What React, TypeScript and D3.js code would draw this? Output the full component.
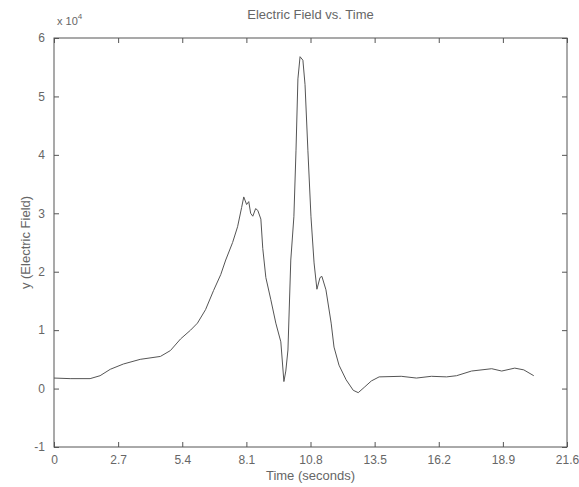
import React, { useEffect, useRef } from 'react'
import * as d3 from 'd3'

// time in seconds, field in units of 1e4
const times = [0, 0.68, 1.52, 1.94, 2.37, 2.92, 3.63, 4.48, 4.9, 5.33, 5.75, 6.04, 6.38, 6.72, 7.02, 7.23, 7.52, 7.73, 7.9, 7.99, 8.11, 8.2, 8.28, 8.37, 8.49, 8.58, 8.71, 8.79, 8.92, 9.13, 9.34, 9.55, 9.68, 9.76, 9.85, 9.97, 10.1, 10.19, 10.27, 10.36, 10.48, 10.57, 10.69, 10.82, 10.95, 11.07, 11.2, 11.28, 11.45, 11.67, 11.79, 12.0, 12.3, 12.6, 12.81, 13.06, 13.36, 13.69, 14.62, 15.26, 15.89, 16.53, 16.95, 17.58, 18.43, 18.85, 19.4, 19.78, 20.2]
const field = [0.18, 0.17, 0.17, 0.22, 0.33, 0.42, 0.5, 0.55, 0.65, 0.85, 1.0, 1.12, 1.35, 1.68, 1.95, 2.2, 2.5, 2.77, 3.1, 3.28, 3.15, 3.2, 3.0, 2.95, 3.08, 3.05, 2.9, 2.4, 1.9, 1.52, 1.12, 0.8, 0.12, 0.3, 0.66, 2.2, 2.94, 4.08, 5.3, 5.68, 5.62, 5.2, 4.08, 2.94, 2.15, 1.7, 1.9, 1.92, 1.69, 1.12, 0.71, 0.4, 0.15, -0.03, -0.07, 0.02, 0.13, 0.2, 0.21, 0.18, 0.21, 0.2, 0.22, 0.3, 0.34, 0.3, 0.35, 0.32, 0.22]

const xTicks = [0, 2.7, 5.4, 8.1, 10.8, 13.5, 16.2, 18.9, 21.6]
const yTicks = [-1, 0, 1, 2, 3, 4, 5, 6]

const W = 579
const H = 487
const box = { left: 54, right: 567, top: 38, bottom: 447 }
const ink = '#555'
const textInk = '#666'

function drawChart(el: SVGSVGElement) {
  const svg = d3.select(el)
  svg.selectAll('*').remove()
  svg.style('font-family', 'Liberation Sans, Arial, sans-serif')

  const x = d3.scaleLinear().domain([0, 21.6]).range([box.left, box.right])
  const y = d3.scaleLinear().domain([-1, 6]).range([box.bottom, box.top])

  svg.append('rect').attr('width', W).attr('height', H).attr('fill', '#fff')

  svg.append('rect')
    .attr('x', box.left).attr('y', box.top)
    .attr('width', box.right - box.left).attr('height', box.bottom - box.top)
    .attr('fill', 'none').attr('stroke', ink).attr('stroke-width', 1)

  const tickLen = 5
  // inward ticks on all sides
  const xAxisB = d3.axisBottom(x).tickValues(xTicks).tickSizeInner(-tickLen).tickSizeOuter(0)
    .tickPadding(8).tickFormat(d => (d === 0 ? '0' : d3.format('.1f')(d as number)))
  const gb = svg.append('g').attr('transform', `translate(0,${box.bottom})`).call(xAxisB)
  const xAxisT = d3.axisTop(x).tickValues(xTicks).tickSizeInner(-tickLen).tickSizeOuter(0).tickFormat(() => '')
  const gt = svg.append('g').attr('transform', `translate(0,${box.top})`).call(xAxisT)
  const yAxisL = d3.axisLeft(y).tickValues(yTicks).tickSizeInner(-tickLen).tickSizeOuter(0)
    .tickPadding(9).tickFormat(d => String(d))
  const gl = svg.append('g').attr('transform', `translate(${box.left},0)`).call(yAxisL)
  const yAxisR = d3.axisRight(y).tickValues(yTicks).tickSizeInner(-tickLen).tickSizeOuter(0).tickFormat(() => '')
  const gr = svg.append('g').attr('transform', `translate(${box.right},0)`).call(yAxisR)

  for (const g of [gb, gt, gl, gr]) {
    g.select('.domain').remove()
    g.selectAll('line').attr('stroke', ink)
    g.selectAll('text').attr('fill', textInk).style('font-size', '12px').style('font-family', 'Liberation Sans, Arial, sans-serif')
  }

  const line = d3.line<number>()
    .x((_, i) => x(times[i]))
    .y(d => y(d))
  svg.append('path')
    .datum(field)
    .attr('d', line)
    .attr('fill', 'none')
    .attr('stroke', ink)
    .attr('stroke-width', 1)

  svg.append('text')
    .attr('x', (box.left + box.right) / 2).attr('y', 19)
    .attr('text-anchor', 'middle').attr('fill', textInk).style('font-size', '13px')
    .text('Electric Field vs. Time')

  const mult = svg.append('text').attr('x', 57).attr('y', 25).attr('fill', textInk).style('font-size', '11px')
  mult.append('tspan').text('x 10')
  mult.append('tspan').attr('dy', -6).style('font-size', '8px').text('4')

  svg.append('text')
    .attr('x', (box.left + box.right) / 2).attr('y', 480)
    .attr('text-anchor', 'middle').attr('fill', textInk).style('font-size', '13px')
    .text('Time (seconds)')

  svg.append('text')
    .attr('transform', `translate(30,${(box.top + box.bottom) / 2}) rotate(-90)`)
    .attr('text-anchor', 'middle').attr('fill', textInk).style('font-size', '13px')
    .text('y (Electric Field)')
}

export default function App() {
  const ref = useRef<SVGSVGElement>(null)
  useEffect(() => {
    if (ref.current) drawChart(ref.current)
  }, [])
  return (
    <svg ref={ref} width={W} height={H} style={{ position: 'absolute', left: 0, top: 0 }} />
  )
}
